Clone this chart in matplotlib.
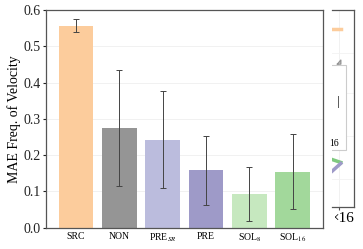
import numpy as np
import matplotlib
matplotlib.use("Agg")
import matplotlib.pyplot as plt
from matplotlib.transforms import Bbox

plt.rcParams['font.family'] = ['Liberation Serif', 'DejaVu Serif']
plt.rcParams['mathtext.fontset'] = 'stix'

# values
labels = ['SRC', 'NON', r'PRE$_{SR}$', 'PRE', r'SOL$_{8}$', r'SOL$_{16}$']
means = [0.557, 0.275, 0.243, 0.158, 0.093, 0.154]
errs = [0.019, 0.161, 0.134, 0.096, 0.075, 0.103]
colors = ['#fccc9c', '#959595', '#bbbcdd', '#9e9ac8', '#c6e8bf', '#a2d89b']

W, H = 363, 249
fig = plt.figure(figsize=(W / 100, H / 100), dpi=100)

def px_axes(x0, y0, x1, y1):
    # pixel box (top-left origin) -> figure fraction
    return [x0 / W, 1 - y1 / H, (x1 - x0) / W, (y1 - y0) / H]

ax = fig.add_axes(px_axes(45.7, 10, 323, 227.7))
x = np.arange(len(labels))
ax.bar(x, means, width=0.8, color=colors, zorder=2)
ax.errorbar(x, means, yerr=errs, fmt='none', ecolor='#444444', elinewidth=0.7,
            capsize=2.2, capthick=0.7, zorder=3)
ax.set_xlim(-0.7, 5.7)
ax.set_ylim(0, 0.6)
ax.set_yticks(np.arange(0, 0.61, 0.1))
ax.set_xticks(x)
ax.set_xticklabels(labels, fontsize=7)
ax.tick_params(axis='x', length=0, pad=3)
ax.tick_params(axis='y', labelsize=10, length=2.5, width=0.8, pad=1, colors='#222222')
ax.yaxis.grid(True, color='#efefef', linewidth=0.6, zorder=0)
ax.set_ylabel('MAE Freq. of Velocity', fontsize=10, labelpad=2)
for s in ax.spines.values():
    s.set_color('#555555')
    s.set_linewidth(0.9)

# partial neighbouring panel cut off at the right edge
ax2 = fig.add_axes(px_axes(332, 10, 354, 206.7))
ax2.set_xlim(0, 1)
ax2.set_ylim(0, 1)
ax2.set_yticks([])
ax2.set_xticks([0.32])
ax2.set_xticklabels([''])
ax2.tick_params(axis='x', length=2.5, width=0.8, colors='#555555')
ax2.xaxis.grid(True, color='#efefef', linewidth=0.6)
for y in [0.78, 0.58, 0.36, 0.14]:
    ax2.axhline(y, color='#f2f2f2', linewidth=0.6)
ax2.spines['left'].set_visible(False)
for s in ax2.spines.values():
    s.set_color('#555555')
    s.set_linewidth(0.9)
ax2.plot([0, 0.4], [0.905, 0.905], color='#fccc9c', linewidth=2.5)
ax2.plot([0.25, 0.4, 0.4, 0.25], [0.725, 0.745, 0.725, 0.725], color='#959595', linewidth=1.0)
ax2.add_patch(plt.Rectangle((-0.2, 0.29), 0.85, 0.43, facecolor='white',
                            edgecolor='#cccccc', linewidth=0.8, zorder=3))
ax2.text(0.25, 0.53, '|', fontsize=9, ha='left', va='center', zorder=4)
ax2.text(0.33, 0.32, '16', fontsize=7, ha='right', va='center', zorder=4)
ax2.plot([0, 0.4], [0.24, 0.225], color='#7fc97f', linewidth=2.5)
ax2.plot([0, 0.4], [0.18, 0.22], color='#9e9ac8', linewidth=2.5)

t = fig.text(343 / W, 1 - 218 / H, '\u00d716', fontsize=11, ha='center', va='center')
t.set_clip_box(Bbox.from_extents(334.5, 0, W, H))
t.set_clip_on(True)

fig.savefig('out.png', dpi=100)
